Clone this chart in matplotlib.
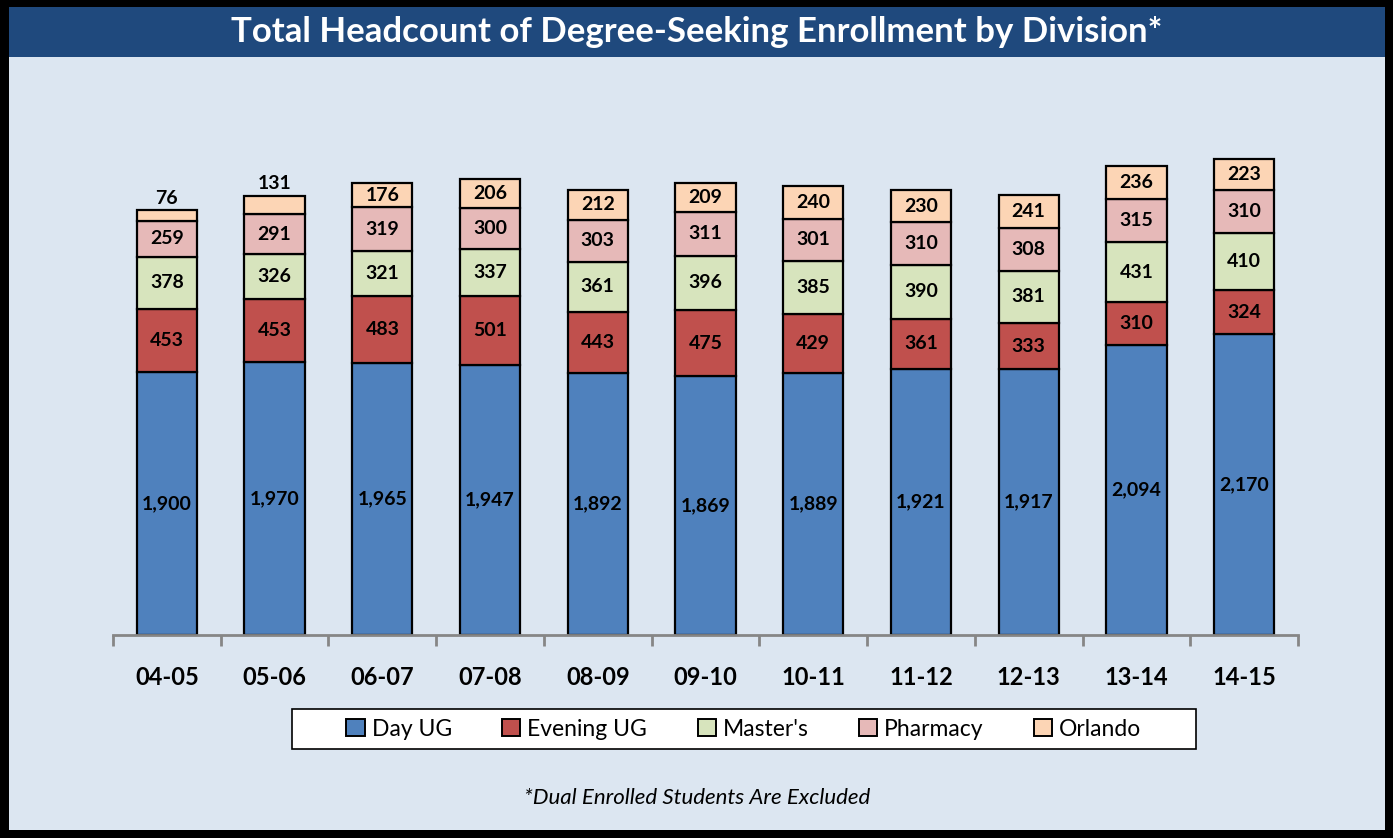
import numpy as np
import matplotlib.pyplot as plt
from matplotlib.patches import Rectangle

plt.rcParams["font.family"] = ["Lato", "DejaVu Sans"]

years = ["04-05", "05-06", "06-07", "07-08", "08-09", "09-10", "10-11", "11-12", "12-13", "13-14", "14-15"]
day_ug = [1900, 1970, 1965, 1947, 1892, 1869, 1889, 1921, 1917, 2094, 2170]
evening_ug = [453, 453, 483, 501, 443, 475, 429, 361, 333, 310, 324]
masters = [378, 326, 321, 337, 361, 396, 385, 390, 381, 431, 410]
pharmacy = [259, 291, 319, 300, 303, 311, 301, 310, 308, 315, 310]
orlando = [76, 131, 176, 206, 212, 209, 240, 230, 241, 236, 223]

series = [("Day UG", day_ug, "#4F81BD"),
          ("Evening UG", evening_ug, "#C0504D"),
          ("Master's", masters, "#D7E4BD"),
          ("Pharmacy", pharmacy, "#E6B9B8"),
          ("Orlando", orlando, "#FCD5B5")]

W, H = 1393, 838
fig = plt.figure(figsize=(W / 100, H / 100), dpi=100, facecolor="black")

# background panel, title bar, legend box
fig.patches.append(Rectangle((9 / W, 8 / H), (1385 - 9) / W, (830 - 8) / H,
                             transform=fig.transFigure, facecolor="#DCE6F1", edgecolor="none", zorder=-3))
fig.patches.append(Rectangle((9 / W, 1 - 57 / H), (1385 - 9) / W, 50 / H,
                             transform=fig.transFigure, facecolor="#1F497D", edgecolor="none", zorder=-2))
fig.patches.append(Rectangle((292 / W, 1 - 749 / H), 904 / W, 40 / H,
                             transform=fig.transFigure, facecolor="white", edgecolor="black",
                             linewidth=1.2, zorder=-1))
fig.text(697 / W, 1 - 32 / H, "Total Headcount of Degree-Seeking Enrollment by Division*",
         ha="center", va="center", color="white", fontsize=25, fontweight="bold")

ax = fig.add_axes([113 / W, 1 - 635 / H, (1298 - 113) / W, (635 - 81) / H])
ax.set_facecolor("none")

x = np.arange(len(years))
bottom = np.zeros(len(years))
for name, vals, color in series:
    vals = np.array(vals)
    ax.bar(x, vals, 0.56, bottom=bottom, color=color, edgecolor="black", linewidth=1.6, label=name, zorder=2)
    for i, v in enumerate(vals):
        if name == "Orlando" and v < 150:
            ax.text(x[i], bottom[i] + v + 25, f"{v:,}", ha="center", va="bottom",
                    fontsize=14, fontweight="bold", zorder=3)
        else:
            ax.text(x[i], bottom[i] + v / 2, f"{v:,}", ha="center", va="center",
                    fontsize=14, fontweight="bold", zorder=3)
    bottom += vals

ax.set_xlim(-0.5, len(years) - 0.5)
ax.set_ylim(0, 4000)
ax.set_yticks([])
for s in ["top", "right", "left"]:
    ax.spines[s].set_visible(False)
ax.spines["bottom"].set_color("#868686")
ax.spines["bottom"].set_linewidth(2)
ax.set_xticks(x)
ax.set_xticklabels(years, fontsize=17, fontweight="bold")
ax.tick_params(axis="x", which="major", length=0, pad=22)
ax.set_xticks(np.arange(-0.5, len(years)), minor=True)
ax.tick_params(axis="x", which="minor", length=8, width=2, color="#868686")

leg = fig.legend(loc="center", bbox_to_anchor=(744 / W, 1 - 729 / H), ncol=5,
                 fontsize=16.5, frameon=False,
                 handlelength=0.8, handleheight=0.8, handletextpad=0.3, columnspacing=2.2)
for h in leg.legend_handles:
    h.set_linewidth(1.4)

fig.text(697 / W, 1 - 798 / H, "*Dual Enrolled Students Are Excluded", ha="center", va="center",
         fontsize=16, fontstyle="italic")

fig.savefig("out.png", dpi=100, facecolor=fig.get_facecolor())
